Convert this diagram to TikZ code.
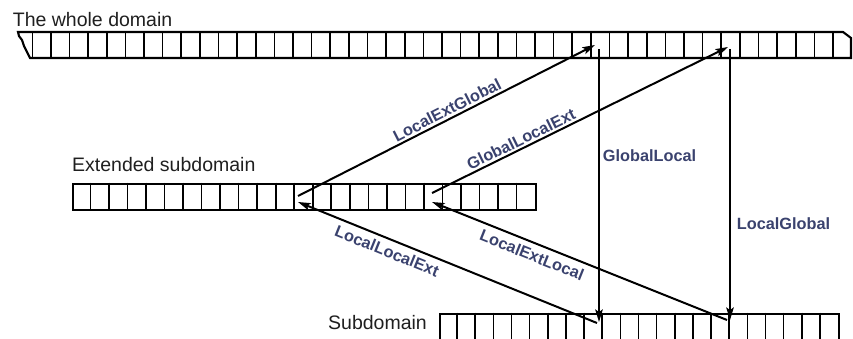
\documentclass[tikz,border=0pt]{standalone}
\usepackage{fontspec}
\setmainfont{Liberation Sans}
\usetikzlibrary{arrows.meta}
\definecolor{lblblue}{RGB}{58,66,110}
\begin{document}
\begin{tikzpicture}[x=1pt,y=-1pt,
  outline/.style={line width=2.1pt, line join=miter},
  cell/.style={line width=1.6pt},
  conn/.style={line width=2pt, -{Stealth[length=12.5pt,width=7.5pt,inset=2.5pt]}},
  barbox/.style={draw, line width=2.1pt, inner sep=0pt, anchor=north west, minimum height=26pt},
  title/.style={font=\fontsize{19.5}{22}\selectfont, text=black!88, inner sep=0pt, anchor=base west},
  lbl/.style={font=\fontsize{16.3}{19}\selectfont\bfseries, text=lblblue, inner sep=0pt}]
\useasboundingbox (0,0) rectangle (853,338);
\clip (0,0) rectangle (853,338);
% the whole domain (torn at both ends)
\draw[outline] (18,32) -- (843,32) -- (851,38) -- (851,58) -- (30,58) -- (27,52) -- (24,46) -- (22,40) -- (19,36) -- cycle;
\foreach \k in {0,...,43} \draw[cell] ({32.3+18.62*\k},32) -- ({32.3+18.62*\k},58);
% extended subdomain
\node[barbox, minimum width=463pt] (ext) at (72,182.5) {};
\foreach \k in {1,...,24} \draw[cell] ({72+18.52*\k},182.5) -- ({72+18.52*\k},208.5);
% subdomain
\node[barbox, minimum width=399pt, minimum height=30pt] (sub) at (439,312.5) {};
\foreach \k in {1,...,21} \draw[cell] ({439+18.136*\k},312.5) -- ({439+18.136*\k},342.5);
% titles
\node[title] (tw) at (12.7,26.7) {The whole domain};
\node[title] (te) at (72,171) {Extended subdomain};
\node[title] (ts) at (328,329) {Subdomain};
% connector ends
\coordinate (wA) at (595,45);
\coordinate (wB) at (728,47);
\coordinate (wC) at (599,49);
\coordinate (wD) at (730,49);
\coordinate (eA) at (298,196);
\coordinate (eA2) at (298,202);
\coordinate (eB) at (432,193);
\coordinate (eB2) at (432,202);
\coordinate (sA) at (599,322);
\coordinate (sA2) at (597,323);
\coordinate (sB) at (730,320);
\coordinate (sB2) at (727,320);
% connectors
\draw[conn] (eA) -- (wA);
\draw[conn] (eB) -- (wB);
\draw[conn] (wC) -- (sA);
\draw[conn] (wD) -- (sB);
\draw[conn] (sA2) -- (eA2);
\draw[conn] (sB2) -- (eB2);
% labels
\node[lbl, rotate=26.95] (l1) at (447,110) {LocalExtGlobal};
\node[lbl, rotate=26.1] (l2) at (521,139) {GlobalLocalExt};
\node[lbl, anchor=west] (l3) at (602.7,156) {GlobalLocal};
\node[lbl, anchor=west] (l4) at (736.7,223.5) {LocalGlobal};
\node[lbl, rotate=-22] (l5) at (387,251) {LocalLocalExt};
\node[lbl, rotate=-21.8] (l6) at (532,255) {LocalExtLocal};
\end{tikzpicture}
\end{document}
